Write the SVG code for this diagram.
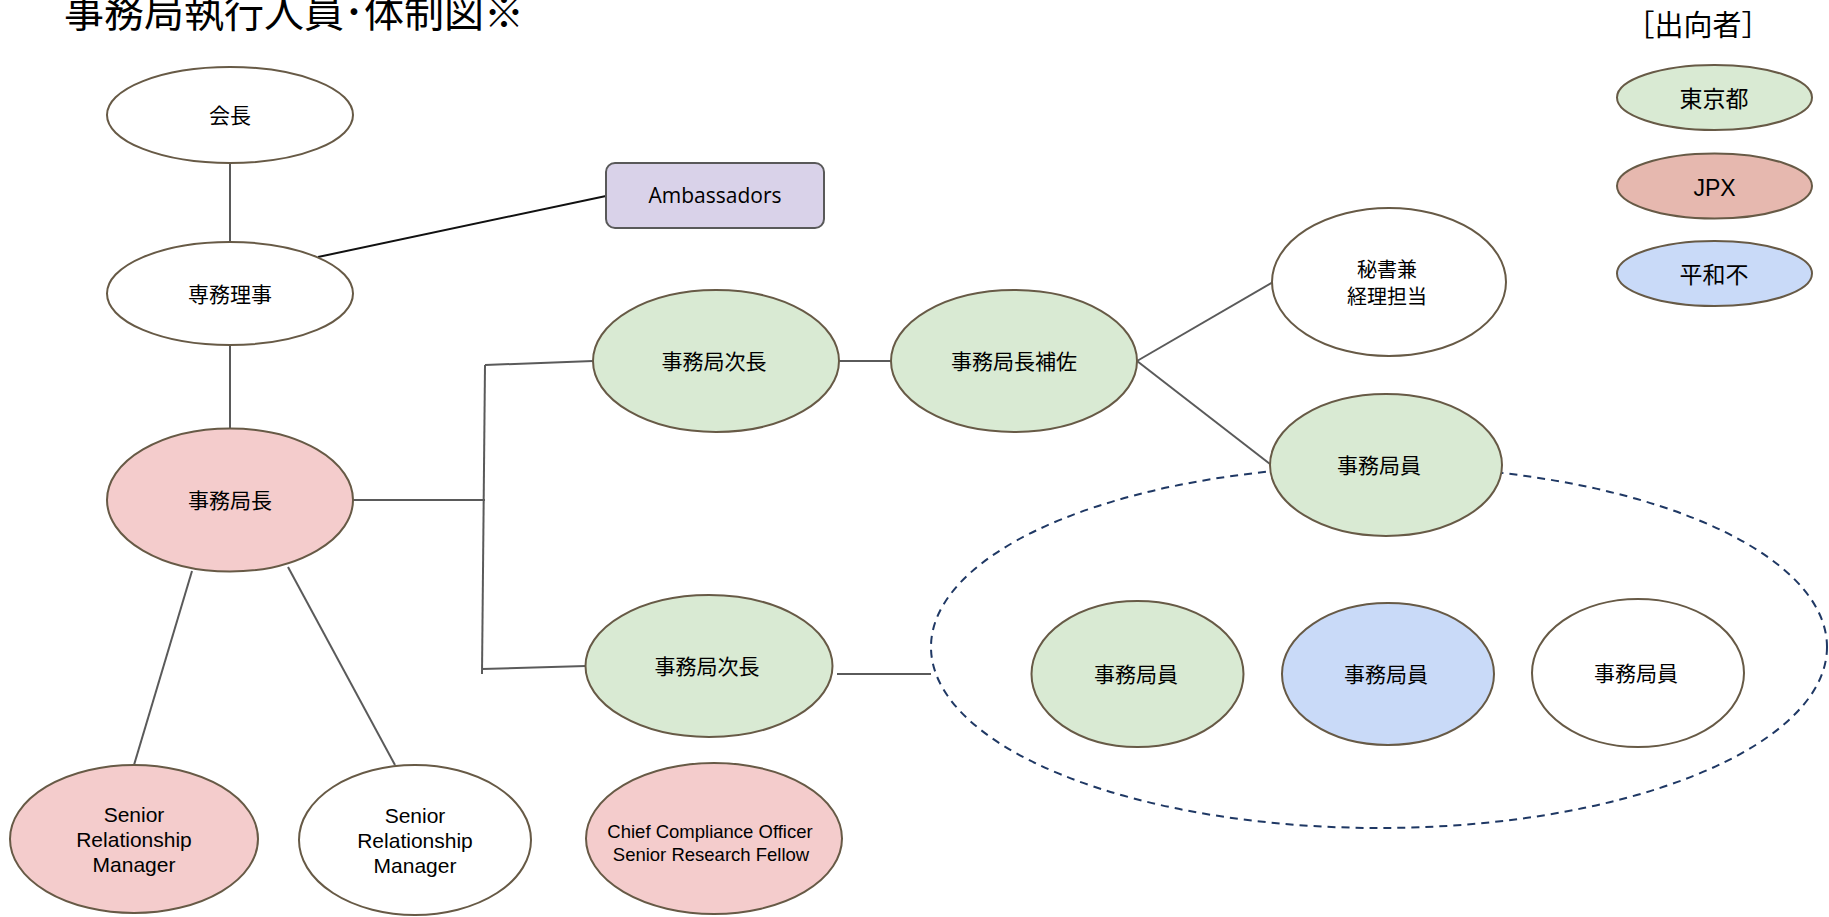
<svg xmlns="http://www.w3.org/2000/svg" width="1829" height="917" viewBox="0 0 1829 917">
<style>
.node{stroke:#675a46;stroke-width:2}
.w{fill:#ffffff}.g{fill:#d9ead3}.p{fill:#f4cccc}.b{fill:#c9daf8}.j{fill:#e6b8af}
.jp{font-family:"Noto Sans CJK JP","Noto Sans",sans-serif;font-size:21px;fill:#000;text-anchor:middle}
.en{font-family:"Liberation Sans",Arial,sans-serif;font-size:21px;fill:#000;text-anchor:middle}
.conn line{stroke:#5a5a5a;stroke-width:2}
</style>
<rect width="1829" height="917" fill="#ffffff"/>
<text x="64" y="27" font-family="Noto Sans CJK JP, Noto Sans, sans-serif" font-size="40" fill="#000">事務局執行人員･体制図※</text>
<text x="1698" y="36" font-family="Noto Sans CJK JP, Noto Sans, sans-serif" font-size="29" fill="#000" text-anchor="middle">［出向者］</text>
<g id="dashed-group">
<ellipse cx="1379" cy="647" rx="448" ry="181" fill="none" stroke="#1f3864" stroke-width="2" stroke-dasharray="8,6"/>
</g>
<g class="conn" id="connectors">
<line x1="230" y1="163" x2="230" y2="242"/>
<line x1="230" y1="345" x2="230" y2="429"/>
<line x1="318" y1="257" x2="606" y2="196" style="stroke:#111"/>
<line x1="353" y1="500" x2="485" y2="500"/>
<line x1="485" y1="365" x2="482" y2="674"/>
<line x1="485" y1="365" x2="593" y2="361"/>
<line x1="482" y1="669" x2="586" y2="666"/>
<line x1="839" y1="361" x2="891" y2="361"/>
<line x1="1137" y1="361" x2="1273" y2="282"/>
<line x1="1137" y1="361" x2="1270" y2="464"/>
<line x1="837" y1="674" x2="931" y2="674"/>
<line x1="192" y1="571" x2="134" y2="765"/>
<line x1="288" y1="567" x2="395" y2="765"/>
</g>
<g id="kaicho"><ellipse class="node w" cx="230" cy="115" rx="123" ry="48"/><text class="jp" x="230" y="123">会長</text></g>
<g id="senmu"><ellipse class="node w" cx="230" cy="293.5" rx="123" ry="51.5"/><text class="jp" x="230" y="301.5">専務理事</text></g>
<g id="ambassadors"><rect x="606" y="163" width="218" height="65" rx="9" fill="#d9d2e9" stroke="#595959" stroke-width="2"/><text x="715" y="203" font-family="Open Sans, sans-serif" font-size="21" fill="#000" text-anchor="middle">Ambassadors</text></g>
<g id="kyokucho"><ellipse class="node p" cx="230" cy="500" rx="123" ry="71.5"/><text class="jp" x="230" y="508">事務局長</text></g>
<g id="jicho1"><ellipse class="node g" cx="716" cy="361" rx="123" ry="71"/><text class="jp" x="714" y="369">事務局次長</text></g>
<g id="hosa"><ellipse class="node g" cx="1014" cy="361" rx="123" ry="71"/><text class="jp" x="1014" y="369">事務局長補佐</text></g>
<g id="hisho"><ellipse class="node w" cx="1389" cy="282" rx="117" ry="74"/><text class="jp" x="1387" y="277" style="font-size:20px">秘書兼</text><text class="jp" x="1387" y="304" style="font-size:20px">経理担当</text></g>
<g id="staff0"><ellipse class="node g" cx="1386" cy="465" rx="116" ry="71"/><text class="jp" x="1379" y="473">事務局員</text></g>
<g id="jicho2"><ellipse class="node g" cx="709" cy="666" rx="123.5" ry="71"/><text class="jp" x="707" y="674">事務局次長</text></g>
<g id="staff1"><ellipse class="node g" cx="1137.5" cy="674" rx="106" ry="73"/><text class="jp" x="1136" y="682">事務局員</text></g>
<g id="staff2"><ellipse class="node b" cx="1388" cy="674" rx="106" ry="71"/><text class="jp" x="1386" y="682">事務局員</text></g>
<g id="staff3"><ellipse class="node w" cx="1638" cy="673" rx="106" ry="74"/><text class="jp" x="1636" y="681">事務局員</text></g>
<g id="srm1"><ellipse class="node p" cx="134" cy="839" rx="124" ry="74"/><text class="en" x="134" y="822">Senior</text><text class="en" x="134" y="847">Relationship</text><text class="en" x="134" y="872">Manager</text></g>
<g id="srm2"><ellipse class="node w" cx="415" cy="840" rx="116" ry="75"/><text class="en" x="415" y="823">Senior</text><text class="en" x="415" y="848">Relationship</text><text class="en" x="415" y="873">Manager</text></g>
<g id="cco"><ellipse class="node p" cx="714" cy="838.5" rx="128" ry="75.5"/><text class="en" x="710" y="838" style="font-size:18.5px">Chief Compliance Officer</text><text class="en" x="711" y="860.5" style="font-size:18.5px">Senior Research Fellow</text></g>
<g id="legend-tokyo"><ellipse class="node g" cx="1714.5" cy="97.5" rx="97.5" ry="32.5"/><text class="jp" x="1714" y="106.5" style="font-size:23px">東京都</text></g>
<g id="legend-jpx"><ellipse class="node j" cx="1714.5" cy="186" rx="97.5" ry="32.5"/><text class="en" x="1714.5" y="196" style="font-size:23px">JPX</text></g>
<g id="legend-heiwa"><ellipse class="node b" cx="1714.5" cy="273.5" rx="97.5" ry="32.5"/><text class="jp" x="1714" y="282.5" style="font-size:23px">平和不</text></g>
</svg>
